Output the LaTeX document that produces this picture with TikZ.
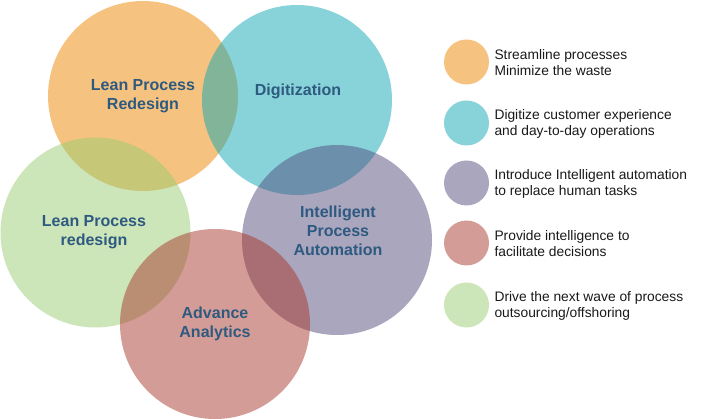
\documentclass[tikz,border=0pt]{standalone}
\usepackage{fontspec}
\setmainfont{Liberation Sans}
\definecolor{leanorange}{RGB}{235,135,0}
\definecolor{digiteal}{RGB}{15,167,179}
\definecolor{autopurple}{RGB}{83,77,125}
\definecolor{analyticsred}{RGB}{169,57,45}
\definecolor{offshoregreen}{RGB}{153,203,115}
\definecolor{labelblue}{RGB}{47,90,128}
\tikzset{
  blob/.style={circle,inner sep=0pt,fill opacity=0.5,minimum size=190pt},
  dot/.style={circle,inner sep=0pt,fill opacity=0.5,minimum size=45pt},
  biglabel/.style={align=center,text=labelblue,font=\bfseries\fontsize{16}{19}\selectfont},
  legtext/.style={anchor=west,align=left,text=black!90,font=\fontsize{13.8}{16}\selectfont}
}
\begin{document}
\begin{tikzpicture}[x=1pt,y=-1pt]
\useasboundingbox (0,0) rectangle (704,419);

\node[blob,fill=leanorange] (lean) at (143,96) {};
\node[blob,fill=digiteal] (digi) at (297,100) {};
\node[blob,fill=offshoregreen] (green) at (95.5,232.5) {};
\node[blob,fill=autopurple] (ipa) at (337,240) {};
\node[blob,fill=analyticsred] (adv) at (215,324) {};

\node[biglabel] (leanlbl) at (143,96) {Lean Process\\Redesign};
\node[biglabel] (digilbl) at (298,91) {Digitization};
\node[biglabel] (greenlbl) at (94,232) {Lean Process\\redesign};
\node[biglabel] (ipalbl) at (338,231) {Intelligent\\Process\\Automation};
\node[biglabel] (advlbl) at (215,324) {Advance\\Analytics};

\node[dot,fill=leanorange] (k1) at (466.5,62) {};
\node[dot,fill=digiteal] (k2) at (466.5,123) {};
\node[dot,fill=autopurple] (k3) at (466.5,183) {};
\node[dot,fill=analyticsred] (k4) at (466.5,243) {};
\node[dot,fill=offshoregreen] (k5) at (466.5,305) {};

\node[legtext] (t1) at (491,63) {Streamline processes\\Minimize the waste};
\node[legtext] (t2) at (491,124) {Digitize customer experience\\and day-to-day operations};
\node[legtext] (t3) at (491,184) {Introduce Intelligent automation\\to replace human tasks};
\node[legtext] (t4) at (491,244) {Provide intelligence to\\facilitate decisions};
\node[legtext] (t5) at (491,306) {Drive the next wave of process\\outsourcing/offshoring};
\end{tikzpicture}
\end{document}
